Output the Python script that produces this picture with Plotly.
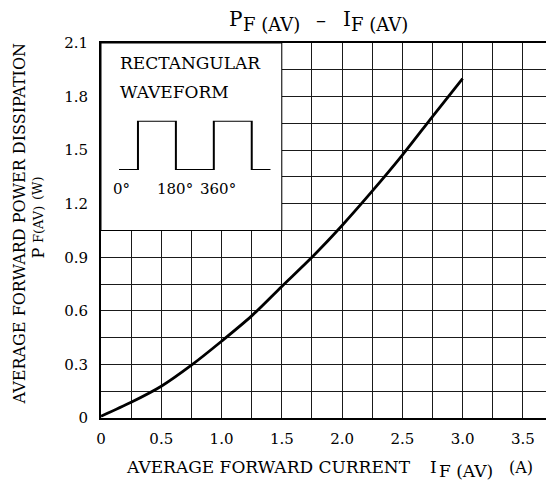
import plotly.graph_objects as go

# ---- data ----
current_a = [0, 0.25, 0.5, 0.75, 1.0, 1.25, 1.5, 1.75, 2.0, 2.25, 2.5, 2.75, 3.0]
power_w = [0.01, 0.088, 0.178, 0.296, 0.43, 0.572, 0.737, 0.90, 1.078, 1.27, 1.472, 1.688, 1.90]

x_tickvals = [0, 0.5, 1.0, 1.5, 2.0, 2.5, 3.0, 3.5]
x_ticktext = ["0", "0.5", "1.0", "1.5", "2.0", "2.5", "3.0", "3.5"]
y_tickvals = [0, 0.3, 0.6, 0.9, 1.2, 1.5, 1.8, 2.1]
y_ticktext = ["0", "0.3", "0.6", "0.9", "1.2", "1.5", "1.8", "2.1"]

# inset rectangular waveform (phase in degrees, level 0/1)
wave_phase = [-90, 0, 0, 180, 180, 360, 360, 540, 540, 630]
wave_level = [0, 0, 1, 1, 0, 0, 1, 1, 0, 0]
wave_labels = ["0°", "180°", "360°"]
wave_label_px = [121, 175, 218]

FONT = "DejaVu Serif"
OFF = 8  # page body margin
W, H = 546, 475
L, R, T, B = 93, 1, 35, 65
PW, PH = W - L - R, H - T - B


def px(xs):
    return (xs - OFF - L) / PW


def py(ys):
    return (H - B - (ys - OFF)) / PH


fig = go.Figure()

fig.add_trace(go.Scatter(
    x=current_a, y=power_w, mode="lines",
    line=dict(color="black", width=2.8, shape="spline", smoothing=0.8),
    hoverinfo="skip", showlegend=False,
))

fig.add_trace(go.Scatter(
    x=wave_phase, y=wave_level, mode="lines", xaxis="x2", yaxis="y2",
    line=dict(color="black", width=2), hoverinfo="skip", showlegend=False,
))

grid = dict(showgrid=True, gridcolor="#1a1a1a", gridwidth=1)

fig.update_layout(
    width=W, height=H,
    margin=dict(l=L, r=R, t=T, b=B, autoexpand=False),
    paper_bgcolor="white", plot_bgcolor="white",
    font=dict(family=FONT, color="black", size=15),
    xaxis=dict(
        range=[0, 3.75], tickvals=x_tickvals, ticktext=x_ticktext,
        showline=True, linecolor="black", linewidth=2, mirror=True,
        ticks="", ticklabelstandoff=6, zeroline=False, automargin=False,
        minor=dict(dtick=0.25, tick0=0, showgrid=True, gridcolor="#1a1a1a", gridwidth=1),
        tickfont=dict(family=FONT, size=15),
        **grid,
    ),
    yaxis=dict(
        range=[0, 2.1], tickvals=y_tickvals, ticktext=y_ticktext,
        showline=True, linecolor="black", linewidth=2, mirror=True,
        ticks="", ticklabelstandoff=8, zeroline=False, automargin=False,
        minor=dict(dtick=0.15, tick0=0, showgrid=True, gridcolor="#1a1a1a", gridwidth=1),
        tickfont=dict(family=FONT, size=15),
        **grid,
    ),
    xaxis2=dict(domain=[px(119), px(270.7)], range=[-90, 630], anchor="y2",
                visible=False, showgrid=False, zeroline=False, automargin=False),
    yaxis2=dict(domain=[py(170), py(120.7)], range=[0, 1], anchor="x2",
                visible=False, showgrid=False, zeroline=False, automargin=False),
)

# white inset covering the grid
fig.add_shape(type="rect", xref="x", yref="y", x0=0, x1=1.5, y0=1.05, y1=2.1,
              fillcolor="white", line=dict(color="black", width=1), layer="between")


def A(text, xs, ys, size, xanchor="center", angle=0):
    return dict(text=text, x=px(xs), y=py(ys), xref="paper", yref="paper", showarrow=False,
                xanchor=xanchor, yanchor="middle", textangle=angle,
                font=dict(family=FONT, size=size))


ann = [
    # title  P_F(AV) – I_F(AV)
    A("P", 227, 19, 20, "left"),
    A("F (AV)", 241, 24, 18, "left"),
    A("–", 321, 20, 20),
    A("I", 341, 19, 20, "left"),
    A("F (AV)", 349, 24, 18, "left"),
    # y-axis title
    A("AVERAGE FORWARD POWER DISSIPATION", 19, 223.5, 16, angle=-90),
    A("P", 38, 253.5, 16, angle=-90),
    A("F(AV)", 39, 225, 13, angle=-90),
    A("(W)", 37, 188, 13, angle=-90),
    # x-axis title
    A("AVERAGE FORWARD CURRENT", 124, 467, 17, "left"),
    A("I", 428, 467, 17, "left"),
    A("F (AV)", 437, 471, 17, "left"),
    A("(A)", 507, 467, 16, "left"),
    # inset text
    A("RECTANGULAR", 118, 63, 17, "left"),
    A("WAVEFORM", 118, 92, 17, "left"),
]
for lab, xs in zip(wave_labels, wave_label_px):
    ann.append(A(lab, xs, 188.5, 15))
fig.update_layout(annotations=ann)

fig.write_html("out.html")
